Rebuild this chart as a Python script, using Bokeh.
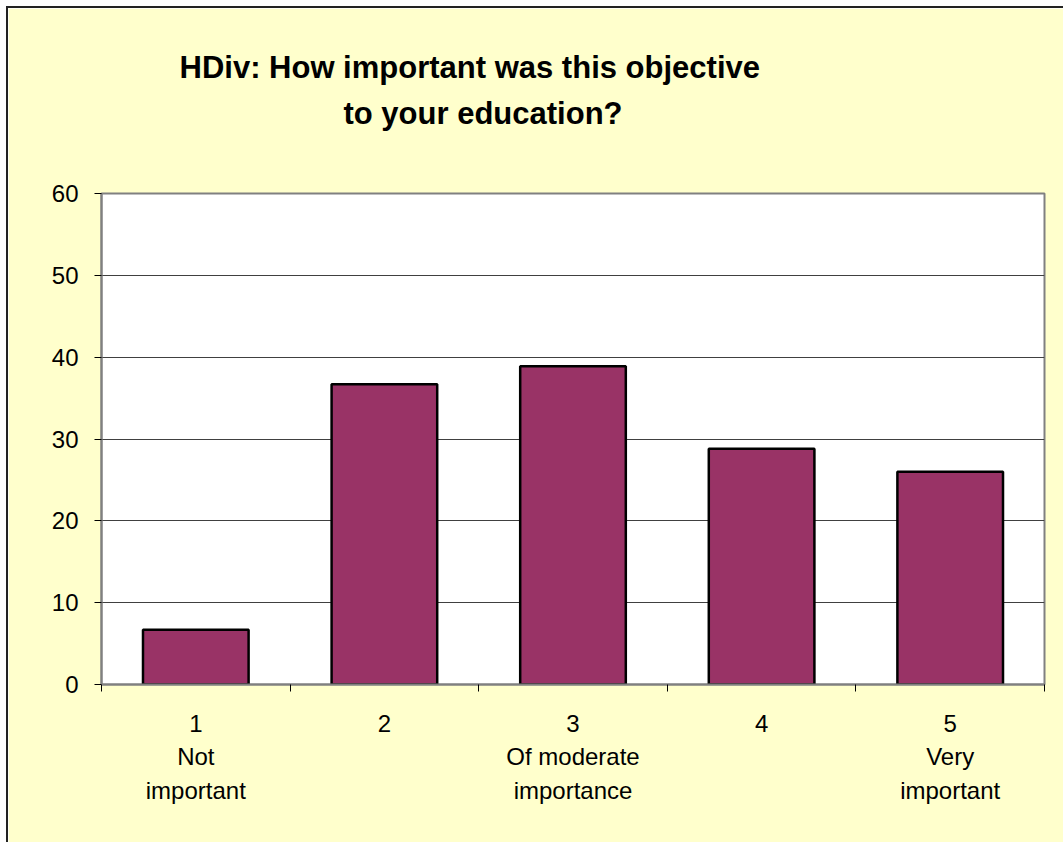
from bokeh.plotting import figure
from bokeh.models import Range1d, FixedTicker, Title, ColumnDataSource
from bokeh.embed import file_html
from bokeh.resources import INLINE

categories = [1, 2, 3, 4, 5]
category_labels = ["1\nNot\nimportant", "2", "3\nOf moderate\nimportance", "4", "5\nVery\nimportant"]
values = [6.7, 36.7, 38.9, 28.8, 26.0]
y_ticks = [0, 10, 20, 30, 40, 50, 60]
title_lines = ["HDiv: How important was this objective", "to your education?"]

p = figure(width=1055, height=834, output_backend="svg", toolbar_location=None,
           x_range=Range1d(0.5, 5.5), y_range=Range1d(0, 60),
           min_border_left=93, min_border_right=19, min_border_top=185, min_border_bottom=158)
p.styles = {"outline": "2px solid #222222", "margin-left": "8px", "margin-top": "8px"}
p.border_fill_color = "#FFFFCC"
p.background_fill_color = "#FFFFFF"
p.outline_line_color = "#808080"
p.outline_line_width = 2

src = ColumnDataSource(dict(x=categories, top=values))
p.vbar(x="x", top="top", width=0.56, bottom=0, source=src,
       fill_color="#993366", line_color="#000000", line_width=2.5)

# grid
p.xgrid.visible = False
p.ygrid.ticker = FixedTicker(ticks=y_ticks)
p.ygrid.grid_line_color = "#404040"
p.ygrid.grid_line_width = 1

# y axis
p.yaxis.ticker = FixedTicker(ticks=y_ticks)
p.yaxis.axis_line_color = "#808080"
p.yaxis.axis_line_width = 2
p.yaxis.major_tick_out = 7
p.yaxis.major_tick_in = 0
p.yaxis.major_tick_line_color = "#000000"
p.yaxis.minor_tick_line_color = None
p.yaxis.major_label_standoff = 16
p.yaxis.major_label_text_font = "Liberation Sans"
p.yaxis.major_label_text_font_size = "24px"
p.yaxis.major_label_text_color = "#000000"

# x axis
p.xaxis.ticker = FixedTicker(ticks=categories, minor_ticks=[0.5, 1.5, 2.5, 3.5, 4.5, 5.5])
p.xaxis.major_label_overrides = {c: l for c, l in zip(categories, category_labels)}
p.xaxis.axis_line_color = "#808080"
p.xaxis.axis_line_width = 2
p.xaxis.major_tick_out = 0
p.xaxis.major_tick_in = 0
p.xaxis.minor_tick_out = 7
p.xaxis.minor_tick_in = 0
p.xaxis.minor_tick_line_color = "#000000"
p.xaxis.major_label_standoff = 18
p.xaxis.major_label_text_font = "Liberation Sans"
p.xaxis.major_label_text_font_size = "24px"
p.xaxis.major_label_text_color = "#000000"
p.xaxis.major_label_text_line_height = 1.25

# title (two lines) with a blank spacer between title and plot area
title_style = dict(text_font="Liberation Sans", text_font_style="bold",
                   text_font_size="31px", text_color="#000000")
spacer = Title(text=" ", align="left", offset=0, standoff=23, **title_style)
t2 = Title(text=title_lines[1], align="left", offset=242, standoff=6, **title_style)
t1 = Title(text=title_lines[0], align="left", offset=78, standoff=12, **title_style)
p.add_layout(spacer, "above")
p.add_layout(t2, "above")
p.add_layout(t1, "above")

open("out.html", "w").write(file_html(p, INLINE))
